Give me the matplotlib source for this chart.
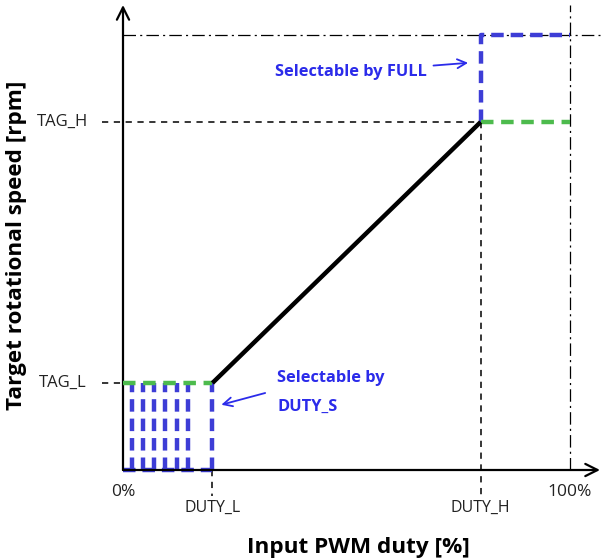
import matplotlib
matplotlib.use("Agg")
import matplotlib.pyplot as plt

plt.rcParams['font.family'] = ['Open Sans', 'DejaVu Sans']
plt.rcParams['lines.scale_dashes'] = False

# characteristic points (duty in %, speed in relative units)
duty_l = 20
duty_h = 80
tag_l = 20
tag_h = 80
full_level = 100
duty_s_steps = [2, 4.5, 7, 9.5, 12, 14.5]

x_ticks = [0, duty_l, duty_h, 100]
x_tick_labels = ["0%", "DUTY_L", "DUTY_H", "100%"]
y_ticks = [tag_l, tag_h]
y_tick_labels = ["TAG_L", "TAG_H"]

blue = "#3d3dd6"
text_blue = "#2b2bea"
green = "#4dbb4d"

xmax, ymax = 106.7, 106.9

fig = plt.figure(figsize=(6.02, 5.6), dpi=100)
ax = fig.add_axes([123 / 602, 90 / 560, 477 / 602, 465 / 560])
ax.set_xlim(0, xmax)
ax.set_ylim(0, ymax)
ax.axis("off")

thin_dash = dict(color="black", lw=1.1, dashes=(4.5, 4), clip_on=False)
dashdot = dict(color="black", lw=0.9, dashes=(9, 3, 1.5, 3), clip_on=False)
thick_blue = dict(color=blue, lw=3.2, dashes=(9, 5), clip_on=False)
thick_green = dict(color=green, lw=3.2, dashes=(9, 5.5), clip_on=False)

# axes with open arrow heads
ax.annotate("", xy=(xmax, 0), xytext=(0, 0),
            arrowprops=dict(arrowstyle="->", lw=1.6, color="black",
                            mutation_scale=22, shrinkA=0, shrinkB=0))
ax.annotate("", xy=(0, ymax), xytext=(0, 0),
            arrowprops=dict(arrowstyle="->", lw=1.6, color="black",
                            mutation_scale=22, shrinkA=0, shrinkB=0))

# reference lines
ax.plot([-4.8, duty_h], [tag_h, tag_h], **thin_dash)
ax.plot([-4.8, 0], [tag_l, tag_l], **thin_dash)
ax.plot([duty_h, duty_h], [tag_h, -6.5], **thin_dash)
ax.plot([duty_l, duty_l], [0, -6], **thin_dash)
ax.plot([0, xmax], [full_level, full_level], **dashdot)
ax.plot([100, 100], [0, ymax], **dashdot)

# DUTY_S selectable region
for xs in duty_s_steps:
    ax.plot([xs, xs], [0, tag_l], **thick_blue)
ax.plot([duty_l, duty_l], [0, tag_l], **thick_blue)
ax.plot([0, duty_l], [0, 0], **thick_blue)
ax.plot([0, duty_l], [tag_l, tag_l], **thick_green, zorder=4)

# FULL selectable region
ax.plot([duty_h, duty_h, 100], [tag_h, full_level, full_level], **thick_blue)
ax.plot([duty_h, 100], [tag_h, tag_h], **thick_green)

# main characteristic
ax.plot([duty_l, duty_h], [tag_l, tag_h], color="black", lw=3.2,
        solid_capstyle="butt", zorder=5)

# tick labels
for xv, lab in zip(x_ticks, x_tick_labels):
    if lab.endswith("%"):
        ax.text(xv, -5, lab, ha="center", va="center", fontsize=12.5,
                color="#222222")
    else:
        ax.text(xv, -8.6, lab, ha="center", va="center", fontsize=11.5,
                color="#222222")
for yv, lab in zip(y_ticks, y_tick_labels):
    ax.text(-13.5, yv, lab, ha="center", va="center", fontsize=12,
            color="#222222")

fig.text(358 / 602, 1 - 547 / 560, "Input PWM duty [%]", ha="center",
         va="center", fontsize=16.2, fontweight="bold")
fig.text(17 / 602, 1 - 245 / 560, "Target rotational speed [rpm]",
         ha="center", va="center", rotation=90, fontsize=16.2,
         fontweight="bold")

# annotations
ax.annotate("Selectable by FULL", xy=(77.2, 93.6), xytext=(67.9, 91.5),
            ha="right", va="center", fontsize=11.8, fontweight="bold",
            color=text_blue,
            arrowprops=dict(arrowstyle="->", color=text_blue, lw=1.3,
                            mutation_scale=16, shrinkA=3, shrinkB=0))
ax.text(34.5, 17.8, "Selectable by\n\nDUTY_S", ha="left", va="center",
        fontsize=11.8, fontweight="bold", color=text_blue, linespacing=0.85)
ax.annotate("", xy=(22, 15), xytext=(31.8, 17.7),
            arrowprops=dict(arrowstyle="->", color=text_blue, lw=1.3,
                            mutation_scale=16, shrinkA=0, shrinkB=0))

fig.savefig("out.png", dpi=100, facecolor="white")
